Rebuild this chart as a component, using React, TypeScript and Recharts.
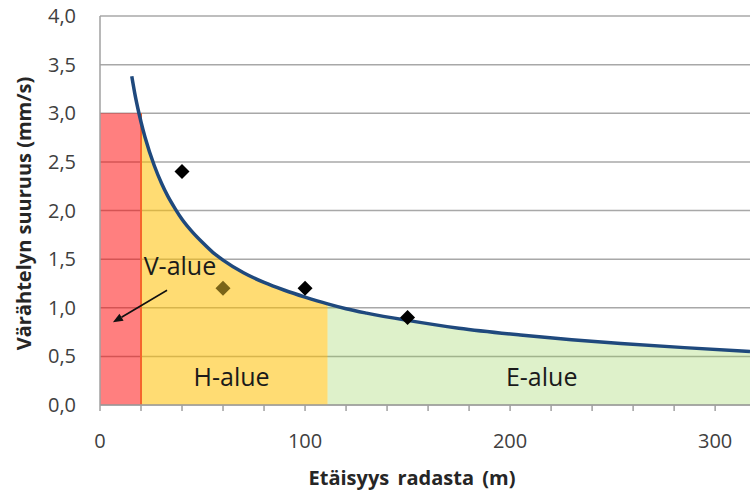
import React from 'react';
import {
  ComposedChart,
  Area,
  Line,
  Scatter,
  XAxis,
  YAxis,
  CartesianGrid,
  ReferenceArea,
  ReferenceLine,
  ReferenceDot,
} from 'recharts';

// curve (distance m -> vibration mm/s)
const curveX = [15.5, 17, 19, 20, 22, 26.5, 30, 33, 36.6, 40, 45, 50, 55, 60, 70, 80, 90, 100, 111, 120, 130, 150, 175, 205, 230, 254, 285, 317];
const curveY = [3.38, 3.2, 3.0, 2.91, 2.75, 2.46, 2.28, 2.15, 2.02, 1.91, 1.78, 1.67, 1.57, 1.49, 1.36, 1.26, 1.18, 1.11, 1.04, 0.99, 0.945, 0.87, 0.79, 0.72, 0.672, 0.633, 0.59, 0.55];

// measured points
const measX = [40, 60, 100, 150];
const measY = [2.4, 1.2, 1.2, 0.9];

// zone limits
const vZoneEnd = 20;
const vZoneTop = 3.0;
const hZoneEnd = 111;

const xTicks = [0, 20, 40, 60, 80, 100, 120, 140, 160, 180, 200, 220, 240, 260, 280, 300];
const yTicks = [0, 0.5, 1, 1.5, 2, 2.5, 3, 3.5, 4];

const zoneLabels = [
  { x: 39, y: 1.43, text: 'V-alue' },
  { x: 64.2, y: 0.29, text: 'H-alue' },
  { x: 215.4, y: 0.29, text: 'E-alue' },
];

const rows = curveX.map((x, i) => ({
  x,
  curve: curveY[i],
  yellow: x >= vZoneEnd && x <= hZoneEnd ? curveY[i] : null,
  green: x >= hZoneEnd ? curveY[i] : null,
}));

const points = measX.map((x, i) => ({ x, y: measY[i] }));

const FONT = '"Open Sans", sans-serif';

const Diamond = (props: any) => {
  const { cx, cy, payload } = props;
  const h = 7.5;
  const color = payload && payload.x === 60 ? '#7a6418' : '#000000';
  return (
    <polygon
      points={`${cx},${cy - h} ${cx + h},${cy} ${cx},${cy + h} ${cx - h},${cy}`}
      fill={color}
    />
  );
};

const Arrow = (props: any) => {
  const { x1, y1, x2, y2 } = props;
  const a = Math.atan2(y2 - y1, x2 - x1);
  const L = 10;
  const W = 4;
  const bx = x2 - L * Math.cos(a);
  const by = y2 - L * Math.sin(a);
  const p1 = `${bx + W * Math.sin(a)},${by - W * Math.cos(a)}`;
  const p2 = `${bx - W * Math.sin(a)},${by + W * Math.cos(a)}`;
  return (
    <g>
      <line x1={x1} y1={y1} x2={bx} y2={by} stroke="#111" strokeWidth={1.6} />
      <polygon points={`${x2},${y2} ${p1} ${p2}`} fill="#111" />
    </g>
  );
};

const App: React.FC = () => {
  return (
    <div style={{ position: 'absolute', left: 0, top: 0, width: 750, height: 492, fontFamily: FONT }}>
      <ComposedChart
        width={750}
        height={492}
        data={rows}
        margin={{ top: 16, right: 0, bottom: 0, left: 0 }}
      >
        <CartesianGrid vertical={false} stroke="#a8a8a8" strokeWidth={1.5} />
        <XAxis
          dataKey="x"
          type="number"
          domain={[0, 317]}
          ticks={xTicks}
          allowDataOverflow
          height={87}
          interval={0}
          tickSize={6}
          tickMargin={23}
          stroke="#a0a0a0"
          strokeWidth={1.5}
          tick={{ fontSize: 20, fill: '#404040', fontFamily: FONT }}
          tickFormatter={(v: number) => (v % 100 === 0 ? String(v) : '')}
          label={(p: any) => {
            const vb = p.viewBox;
            return (
              <text
                x={vb.x + 312}
                y={vb.y + 80}
                textAnchor="middle"
                fontFamily={FONT}
                fontWeight="bold"
                fontSize={20}
                fill="#262626"
                style={{ wordSpacing: 3 }}
              >
                Etäisyys radasta (m)
              </text>
            );
          }}
        />
        <YAxis
          type="number"
          domain={[0, 4]}
          ticks={yTicks}
          width={100}
          tickSize={0}
          tickMargin={24}
          stroke="#a0a0a0"
          strokeWidth={1.5}
          tick={{ fontSize: 20, fill: '#404040', fontFamily: FONT }}
          tickFormatter={(v: number) => v.toFixed(1).replace('.', ',')}
          label={(p: any) => {
            const vb = p.viewBox;
            const cx = vb.x + 23;
            const cy = vb.y + vb.height / 2 + 3;
            return (
              <text
                x={cx}
                y={cy}
                transform={`rotate(-90 ${cx} ${cy})`}
                textAnchor="middle"
                dominantBaseline="central"
                fontFamily={FONT}
                fontWeight="bold"
                fontSize={20}
                fill="#262626"
              >
                Värähtelyn suuruus (mm/s)
              </text>
            );
          }}
        />
        <ReferenceArea
          x1={0}
          x2={vZoneEnd}
          y1={0}
          y2={vZoneTop}
          fill="#ff0000"
          fillOpacity={0.5}
          stroke="none"
        />
        <Area
          type="monotone"
          dataKey="yellow"
          fill="#ffc000"
          fillOpacity={0.55}
          stroke="none"
          isAnimationActive={false}
          dot={false}
          activeDot={false}
        />
        <Area
          type="monotone"
          dataKey="green"
          fill="#92d050"
          fillOpacity={0.3}
          stroke="none"
          isAnimationActive={false}
          dot={false}
          activeDot={false}
        />
        <ReferenceLine
          segment={[
            { x: vZoneEnd, y: 0 },
            { x: vZoneEnd, y: vZoneTop },
          ]}
          stroke="#f5642e"
          strokeWidth={2}
        />
        <Line
          type="monotone"
          dataKey="curve"
          stroke="#1f497d"
          strokeWidth={3.5}
          dot={false}
          activeDot={false}
          isAnimationActive={false}
        />
        <Scatter
          data={points}
          dataKey="y"
          shape={Diamond}
          isAnimationActive={false}
        />
        <ReferenceLine
          segment={[
            { x: 32.7, y: 1.18 },
            { x: 6.3, y: 0.85 },
          ]}
          shape={Arrow}
        />
        {zoneLabels.map((z) => (
          <ReferenceDot
            key={z.text}
            x={z.x}
            y={z.y}
            r={0}
            fill="none"
            stroke="none"
            label={{
              value: z.text,
              position: 'center',
              fill: '#1a1a1a',
              fontSize: 25,
              fontFamily: FONT,
            }}
          />
        ))}
      </ComposedChart>
    </div>
  );
};

export default App;
